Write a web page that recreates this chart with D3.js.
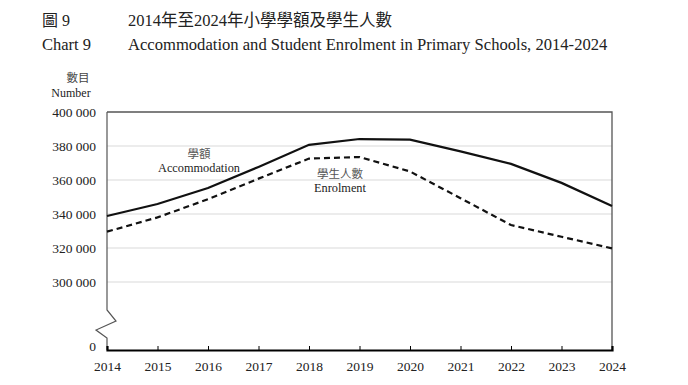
<!DOCTYPE html>
<html>
<head>
<meta charset="utf-8">
<script src="https://cdn.jsdelivr.net/npm/d3@7"></script>
<style>
body { margin: 0; background: #fff; }
svg text { font-family: "Liberation Serif", "Times New Roman", "Noto Sans CJK TC", serif; fill: #222; }
</style>
</head>
<body>
<div id="graf"></div>
<script>
// Datos
const anios = [2014, 2015, 2016, 2017, 2018, 2019, 2020, 2021, 2022, 2023, 2024]
const acomodacion = [338800, 345900, 355300, 367700, 380700, 384100, 383700, 376800, 369500, 358300, 344700]
const matricula = [329600, 338000, 348700, 360800, 372600, 373500, 365000, 349300, 333500, 326600, 319800]
const yTicks = [0, 300000, 320000, 340000, 360000, 380000, 400000]

const anchoTotal = 688
const altoTotal = 385
const margins = { top: 112, right: 76, bottom: 35, left: 107 }
const ancho = anchoTotal - margins.left - margins.right
const alto = altoTotal - margins.top - margins.bottom

const svg = d3.select("#graf").append("svg")
    .attr("width", anchoTotal)
    .attr("height", altoTotal)

// Títulos
const titulos = [
    { x: 42, y: 26, t: "圖 9", s: 16 },
    { x: 128, y: 26, t: "2014年至2024年小學學額及學生人數", s: 16.5 },
    { x: 42, y: 50, t: "Chart 9", s: 16.5 },
    { x: 128, y: 50, t: "Accommodation and Student Enrolment in Primary Schools, 2014-2024", s: 16.6 },
]
svg.selectAll("text.titulo").data(titulos).enter()
    .append("text")
    .attr("class", "titulo")
    .attr("x", d => d.x)
    .attr("y", d => d.y)
    .attr("font-size", d => d.s)
    .text(d => d.t)

svg.append("text").attr("x", 78).attr("y", 82).attr("text-anchor", "middle")
    .attr("font-size", 11.5).style("fill", "#444").text("數目")
svg.append("text").attr("x", 71).attr("y", 97).attr("text-anchor", "middle")
    .attr("font-size", 12).text("Number")

const g = svg.append("g").attr("transform", `translate(${margins.left}, ${margins.top})`)

// Escaladores
const x = d3.scalePoint().domain(anios).range([0, ancho])
const y = d3.scaleLinear().domain([0, 300000, 400000]).range([alto, alto - 68, 0])

// Grilla
g.selectAll("line.grid").data([300000, 320000, 340000, 360000, 380000]).enter()
    .append("line")
    .attr("x1", 0).attr("x2", ancho)
    .attr("y1", d => y(d)).attr("y2", d => y(d))
    .attr("stroke", "#d9d9d9").attr("stroke-width", 1)

// Marco
g.append("path")
    .attr("d", `M0,0H${ancho}V${alto}`)
    .attr("fill", "none").attr("stroke", "#555").attr("stroke-width", 1.3)

// Eje Y con corte
const yBreak = y(300000) + 28
g.append("path")
    .attr("d", `M0,0V${yBreak}L9,${yBreak + 11}L-11,${yBreak + 20}L0,${yBreak + 28}V${alto}`)
    .attr("fill", "none").attr("stroke", "#555").attr("stroke-width", 1.2)

g.selectAll("text.ytick").data(yTicks).enter()
    .append("text")
    .attr("class", "ytick")
    .attr("x", -11)
    .attr("y", d => y(d) + (d === 0 ? 1 : 4.5))
    .attr("text-anchor", "end")
    .attr("font-size", 13.5)
    .text(d => d3.format(",")(d).replace(/,/g, " "))

// Eje X
const xAxis = d3.axisBottom(x).tickSize(-4).tickPadding(11).tickFormat(d => d)
const xAxisGroup = g.append("g")
    .attr("transform", `translate(0,${alto})`)
    .call(xAxis)
xAxisGroup.select(".domain").attr("stroke", "#000").attr("stroke-width", 2.2)
xAxisGroup.selectAll(".tick line").attr("stroke", "#000").attr("stroke-width", 1)
xAxisGroup.selectAll(".tick text")
    .attr("font-size", 13.5)
    .attr("font-family", "Liberation Serif, Times New Roman, serif")
    .attr("fill", "#222")

// Líneas
const linea = d3.line().x((d, i) => x(anios[i])).y(d => y(d))
g.append("path")
    .attr("d", linea(acomodacion))
    .attr("fill", "none").attr("stroke", "#111").attr("stroke-width", 2.2)
g.append("path")
    .attr("d", linea(matricula))
    .attr("fill", "none").attr("stroke", "#111").attr("stroke-width", 2.2)
    .attr("stroke-dasharray", "6,4")

// Etiquetas
const etiquetas = [
    { x: 199, y: 158, t: "學額", s: 11.5, c: "#555" },
    { x: 199, y: 172, t: "Accommodation", s: 12.3, c: "#222" },
    { x: 340, y: 178, t: "學生人數", s: 11.5, c: "#555" },
    { x: 340, y: 192, t: "Enrolment", s: 12.3, c: "#222" },
]
svg.selectAll("text.etiq").data(etiquetas).enter()
    .append("text")
    .attr("class", "etiq")
    .attr("x", d => d.x).attr("y", d => d.y)
    .attr("text-anchor", "middle")
    .attr("font-size", d => d.s)
    .style("fill", d => d.c)
    .text(d => d.t)
</script>
</body>
</html>
